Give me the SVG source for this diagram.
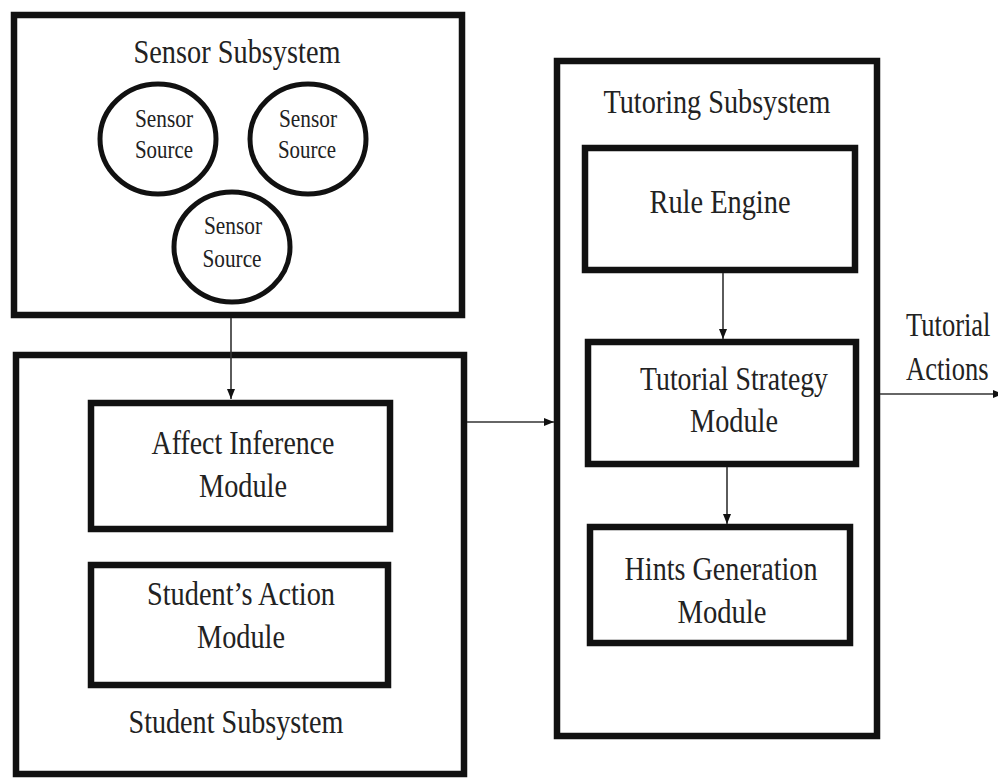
<svg xmlns="http://www.w3.org/2000/svg" width="998" height="780" viewBox="0 0 998 780">
<style>
.box{fill:none;stroke:#111;stroke-width:6.5}
.src{fill:none;stroke:#111;stroke-width:5}
.t{font-family:"Liberation Serif","Times New Roman",serif;fill:#222;text-anchor:middle}
.big{font-size:34px}
.sm{font-size:25px}
.lbl{font-family:"Liberation Serif","Times New Roman",serif;fill:#222;font-size:34px}
.con{stroke:#333;stroke-width:1.6;fill:none}
</style>
<defs>
<marker id="ah" markerUnits="userSpaceOnUse" markerWidth="10" markerHeight="8" refX="10" refY="4" orient="auto">
<path d="M0,0 L10,4 L0,8 Z" fill="#111"/>
</marker>
</defs>
<rect width="998" height="780" fill="#fff"/>

<g id="sensor-subsystem">
<rect class="box" x="14" y="15" width="448" height="300"/>
<text class="t big" x="237" y="63" textLength="207" lengthAdjust="spacingAndGlyphs">Sensor Subsystem</text>
</g>
<g id="sensor-source-1">
<ellipse class="src" cx="158" cy="139" rx="58" ry="55"/>
<text class="t sm" x="164" y="127" textLength="58" lengthAdjust="spacingAndGlyphs">Sensor</text>
<text class="t sm" x="164" y="158" textLength="58" lengthAdjust="spacingAndGlyphs">Source</text>
</g>
<g id="sensor-source-2">
<ellipse class="src" cx="308" cy="139" rx="58" ry="55"/>
<text class="t sm" x="308" y="127" textLength="58" lengthAdjust="spacingAndGlyphs">Sensor</text>
<text class="t sm" x="307" y="158" textLength="58" lengthAdjust="spacingAndGlyphs">Source</text>
</g>
<g id="sensor-source-3">
<ellipse class="src" cx="232" cy="247" rx="58" ry="55"/>
<text class="t sm" x="233" y="234" textLength="58" lengthAdjust="spacingAndGlyphs">Sensor</text>
<text class="t sm" x="232" y="267" textLength="59" lengthAdjust="spacingAndGlyphs">Source</text>
</g>

<g id="student-subsystem">
<rect class="box" x="16" y="355" width="448" height="419"/>
<text class="t big" x="236" y="733" textLength="215" lengthAdjust="spacingAndGlyphs">Student Subsystem</text>
</g>
<g id="affect-inference-module">
<rect class="box" x="91" y="403" width="299" height="126"/>
<text class="t big" x="243" y="454" textLength="183" lengthAdjust="spacingAndGlyphs">Affect Inference</text>
<text class="t big" x="243" y="497" textLength="88" lengthAdjust="spacingAndGlyphs">Module</text>
</g>
<g id="students-action-module">
<rect class="box" x="91" y="565" width="297" height="120"/>
<text class="t big" x="241" y="605" textLength="188" lengthAdjust="spacingAndGlyphs">Student’s Action</text>
<text class="t big" x="241" y="648" textLength="88" lengthAdjust="spacingAndGlyphs">Module</text>
</g>

<g id="tutoring-subsystem">
<rect class="box" x="557" y="61" width="320" height="675"/>
<text class="t big" x="717" y="113" textLength="227" lengthAdjust="spacingAndGlyphs">Tutoring Subsystem</text>
</g>
<g id="rule-engine">
<rect class="box" x="585" y="148" width="270" height="122"/>
<text class="t big" x="720" y="213" textLength="141" lengthAdjust="spacingAndGlyphs">Rule Engine</text>
</g>
<g id="tutorial-strategy-module">
<rect class="box" x="588" y="342" width="268" height="122"/>
<text class="t big" x="734" y="390" textLength="188" lengthAdjust="spacingAndGlyphs">Tutorial Strategy</text>
<text class="t big" x="734" y="432" textLength="88" lengthAdjust="spacingAndGlyphs">Module</text>
</g>
<g id="hints-generation-module">
<rect class="box" x="590" y="527" width="260" height="116"/>
<text class="t big" x="721" y="580" textLength="193" lengthAdjust="spacingAndGlyphs">Hints Generation</text>
<text class="t big" x="722" y="623" textLength="89" lengthAdjust="spacingAndGlyphs">Module</text>
</g>

<g id="connectors">
<line class="con" x1="231" y1="318" x2="231" y2="399" marker-end="url(#ah)"/>
<line class="con" x1="467" y1="422" x2="554" y2="422" marker-end="url(#ah)"/>
<line class="con" x1="723" y1="273" x2="723" y2="339" marker-end="url(#ah)"/>
<line class="con" x1="727" y1="467" x2="727" y2="524" marker-end="url(#ah)"/>
<line class="con" x1="880" y1="394" x2="1003" y2="394" marker-end="url(#ah)"/>
<text class="lbl" transform="translate(906,336) scale(0.78,1)">Tutorial</text>
<text class="lbl" transform="translate(906,380) scale(0.78,1)">Actions</text>
</g>
</svg>
